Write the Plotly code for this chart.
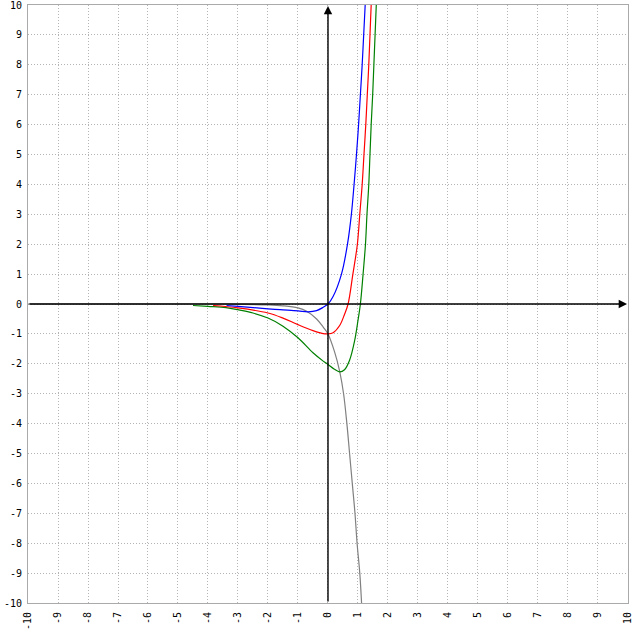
import plotly.graph_objects as go

# ---- data ----
blue_x = [-3.38, -3.0, -2.0, -1.6, -1.0, -0.66, -0.38, -0.16, 0.0, 0.17, 0.45, 0.65, 0.78, 0.87, 0.95, 1.02, 1.08, 1.14, 1.19, 1.24, 1.29]
blue_y = [-0.05, -0.08, -0.16, -0.19, -0.23, -0.26, -0.22, -0.11, 0.0, 0.25, 1, 2, 3, 4, 5, 6, 7, 8, 9, 10, 11]

red_x = [-3.83, -3.0, -2.0, -1.5, -1.0, -0.5, -0.2, 0.0, 0.17, 0.39, 0.55, 0.67, 0.83, 0.98, 1.06, 1.14, 1.2, 1.26, 1.31, 1.36, 1.4, 1.44, 1.48]
red_y = [-0.05, -0.13, -0.3, -0.47, -0.69, -0.89, -0.98, -1.0, -0.96, -0.72, -0.35, 0.0, 1, 2, 3, 4, 5, 6, 7, 8, 9, 10, 11]

green_x = [-4.5, -4.0, -3.4, -3.0, -2.5, -2.0, -1.5, -1.0, -0.5, -0.16, 0.0, 0.2, 0.39, 0.55, 0.72, 0.89, 1.0, 1.08, 1.17, 1.25, 1.3, 1.36, 1.4, 1.44, 1.49, 1.53, 1.57, 1.61, 1.65]
green_y = [-0.05, -0.08, -0.12, -0.19, -0.3, -0.47, -0.74, -1.13, -1.63, -1.91, -2.02, -2.17, -2.27, -2.2, -1.88, -1.22, -0.55, 0.0, 1, 2, 3, 4, 5, 6, 7, 8, 9, 10, 11]

gray_x = [-10.0, -6.0, -4.0, -3.0, -2.0, -1.5, -1.0, -0.71, -0.38, -0.16, 0.0, 0.22, 0.39, 0.52, 0.63, 0.72, 0.81, 0.9, 0.97, 1.06, 1.12, 1.17]
gray_y = [0.0, 0.0, 0.0, -0.01, -0.03, -0.06, -0.13, -0.24, -0.5, -0.77, -1.0, -1.6, -2.25, -3, -4, -5, -6, -7, -8, -9, -10, -11]

tick_vals = list(range(-10, 11))
tick_text = [str(v) for v in tick_vals]

series = [
    (gray_x, gray_y, "#808080"),
    (green_x, green_y, "#008000"),
    (red_x, red_y, "#ff0000"),
    (blue_x, blue_y, "#0000ff"),
]

fig = go.Figure()
for xs, ys, col in series:
    fig.add_trace(go.Scatter(x=xs, y=ys, mode="lines",
                             line=dict(color=col, width=1.2, shape="spline", smoothing=1.0),
                             hoverinfo="skip", showlegend=False))

axis_common = dict(
    range=[-10, 10.001], tickmode="array", tickvals=tick_vals, ticktext=tick_text,
    showgrid=True, gridcolor="#b4b4b4", griddash="1px,2px", gridwidth=1,
    zeroline=False, showline=True, mirror=True, linecolor="#aaaaaa", linewidth=1,
    ticks="", tickfont=dict(family="DejaVu Sans Mono", size=10, color="black"),
    fixedrange=True, automargin=False, ticklabeloverflow="allow",
)

fig.update_xaxes(**axis_common, tickangle=-90, ticklabelstandoff=4)
fig.update_yaxes(**axis_common, ticklabelstandoff=3)

# coordinate axes with arrows
fig.add_annotation(x=9.97, y=0, ax=-10, ay=0, xref="x", yref="y", axref="x", ayref="y",
                   showarrow=True, arrowhead=2, arrowsize=1.2, arrowwidth=1.4,
                   arrowcolor="black", text="")
fig.add_annotation(x=0, y=9.97, ax=0, ay=-10, xref="x", yref="y", axref="x", ayref="y",
                   showarrow=True, arrowhead=2, arrowsize=1.2, arrowwidth=1.4,
                   arrowcolor="black", text="")

fig.update_layout(
    width=633, height=633,
    margin=dict(l=28, r=5, t=5, b=30, autoexpand=False),
    paper_bgcolor="white", plot_bgcolor="white",
    showlegend=False,
)

fig.write_html(
    "out.html",
    config={"displayModeBar": False},
    post_script="document.body.style.margin='0';document.body.style.overflow='hidden';",
)
